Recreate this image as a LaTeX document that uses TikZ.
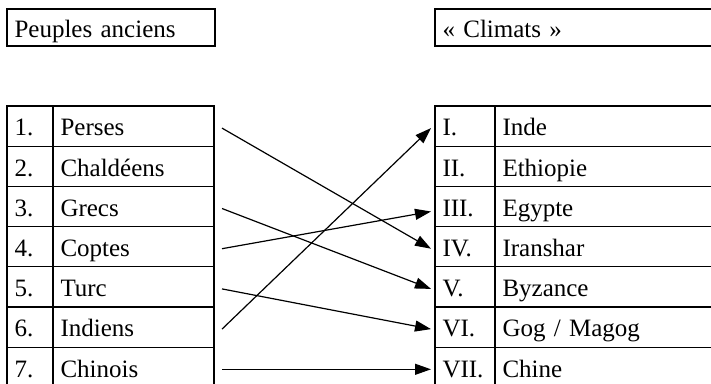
\documentclass[tikz,border=0pt]{standalone}
\usepackage{fontspec}
\setmainfont{Liberation Serif}
\usetikzlibrary{arrows.meta}

\tikzset{
  cell/.style={draw, line width=1.3pt, rectangle, outer sep=0pt, inner ysep=0pt,
    inner xsep=7.5pt, align=left, anchor=north west, minimum height=40.2pt,
    text height=19.5pt, text depth=0pt, font=\fontsize{25pt}{30pt}\selectfont},
  link/.style={line width=1.2pt, -{Triangle[length=16pt,width=11pt]}}
}

\begin{document}
\begin{tikzpicture}[x=1pt,y=-1pt]
    \useasboundingbox (0,0) rectangle (711,383);
    \clip (0,0) rectangle (711,383);

    % headers
    \node[cell, minimum height=37pt, text width=193pt] (hleft) at (7,9) {Peuples anciens};
    \node[cell, minimum height=37pt, text width=285pt] (hright) at (435,9) {«~Climats~»};

    % peoples
    \foreach \num/\pname [count=\i] in {1./Perses, 2./Chaldéens, 3./Grecs, 4./Coptes,
        5./Turc, 6./Indiens, 7./Chinois}{
        \node[cell, text width=31pt] (n\i) at (7,{106+40.2*(\i-1)}) {\num};
        \node[cell, text width=146pt] (p\i) at (n\i.north east) {\pname};
        \coordinate (a\i) at ([xshift=8pt,yshift=-2pt]p\i.east);
    }

    % climates
    \foreach \num/\cname [count=\i] in {I./Inde, II./Ethiopie, III./Egypte, IV./Iranshar,
        V./Byzance, VI./{Gog / Magog}, VII./Chine}{
        \node[cell, text width=45pt] (r\i) at (435,{106+40.2*(\i-1)}) {\num};
        \node[cell, text width=285pt] (c\i) at (r\i.north east) {\cname};
        \coordinate (b\i) at ([xshift=-4pt,yshift=-2pt]r\i.west);
    }

    \draw[link] (a1) -- (b4);
    \draw[link] (a3) -- (b5);
    \draw[link] (a4) -- ([yshift=-3pt]b3);
    \draw[link] (a5) -- (b6);
    \draw[link] (a6) -- (b1);
    \draw[link] (a7) -- (b7);
\end{tikzpicture}
\end{document}
